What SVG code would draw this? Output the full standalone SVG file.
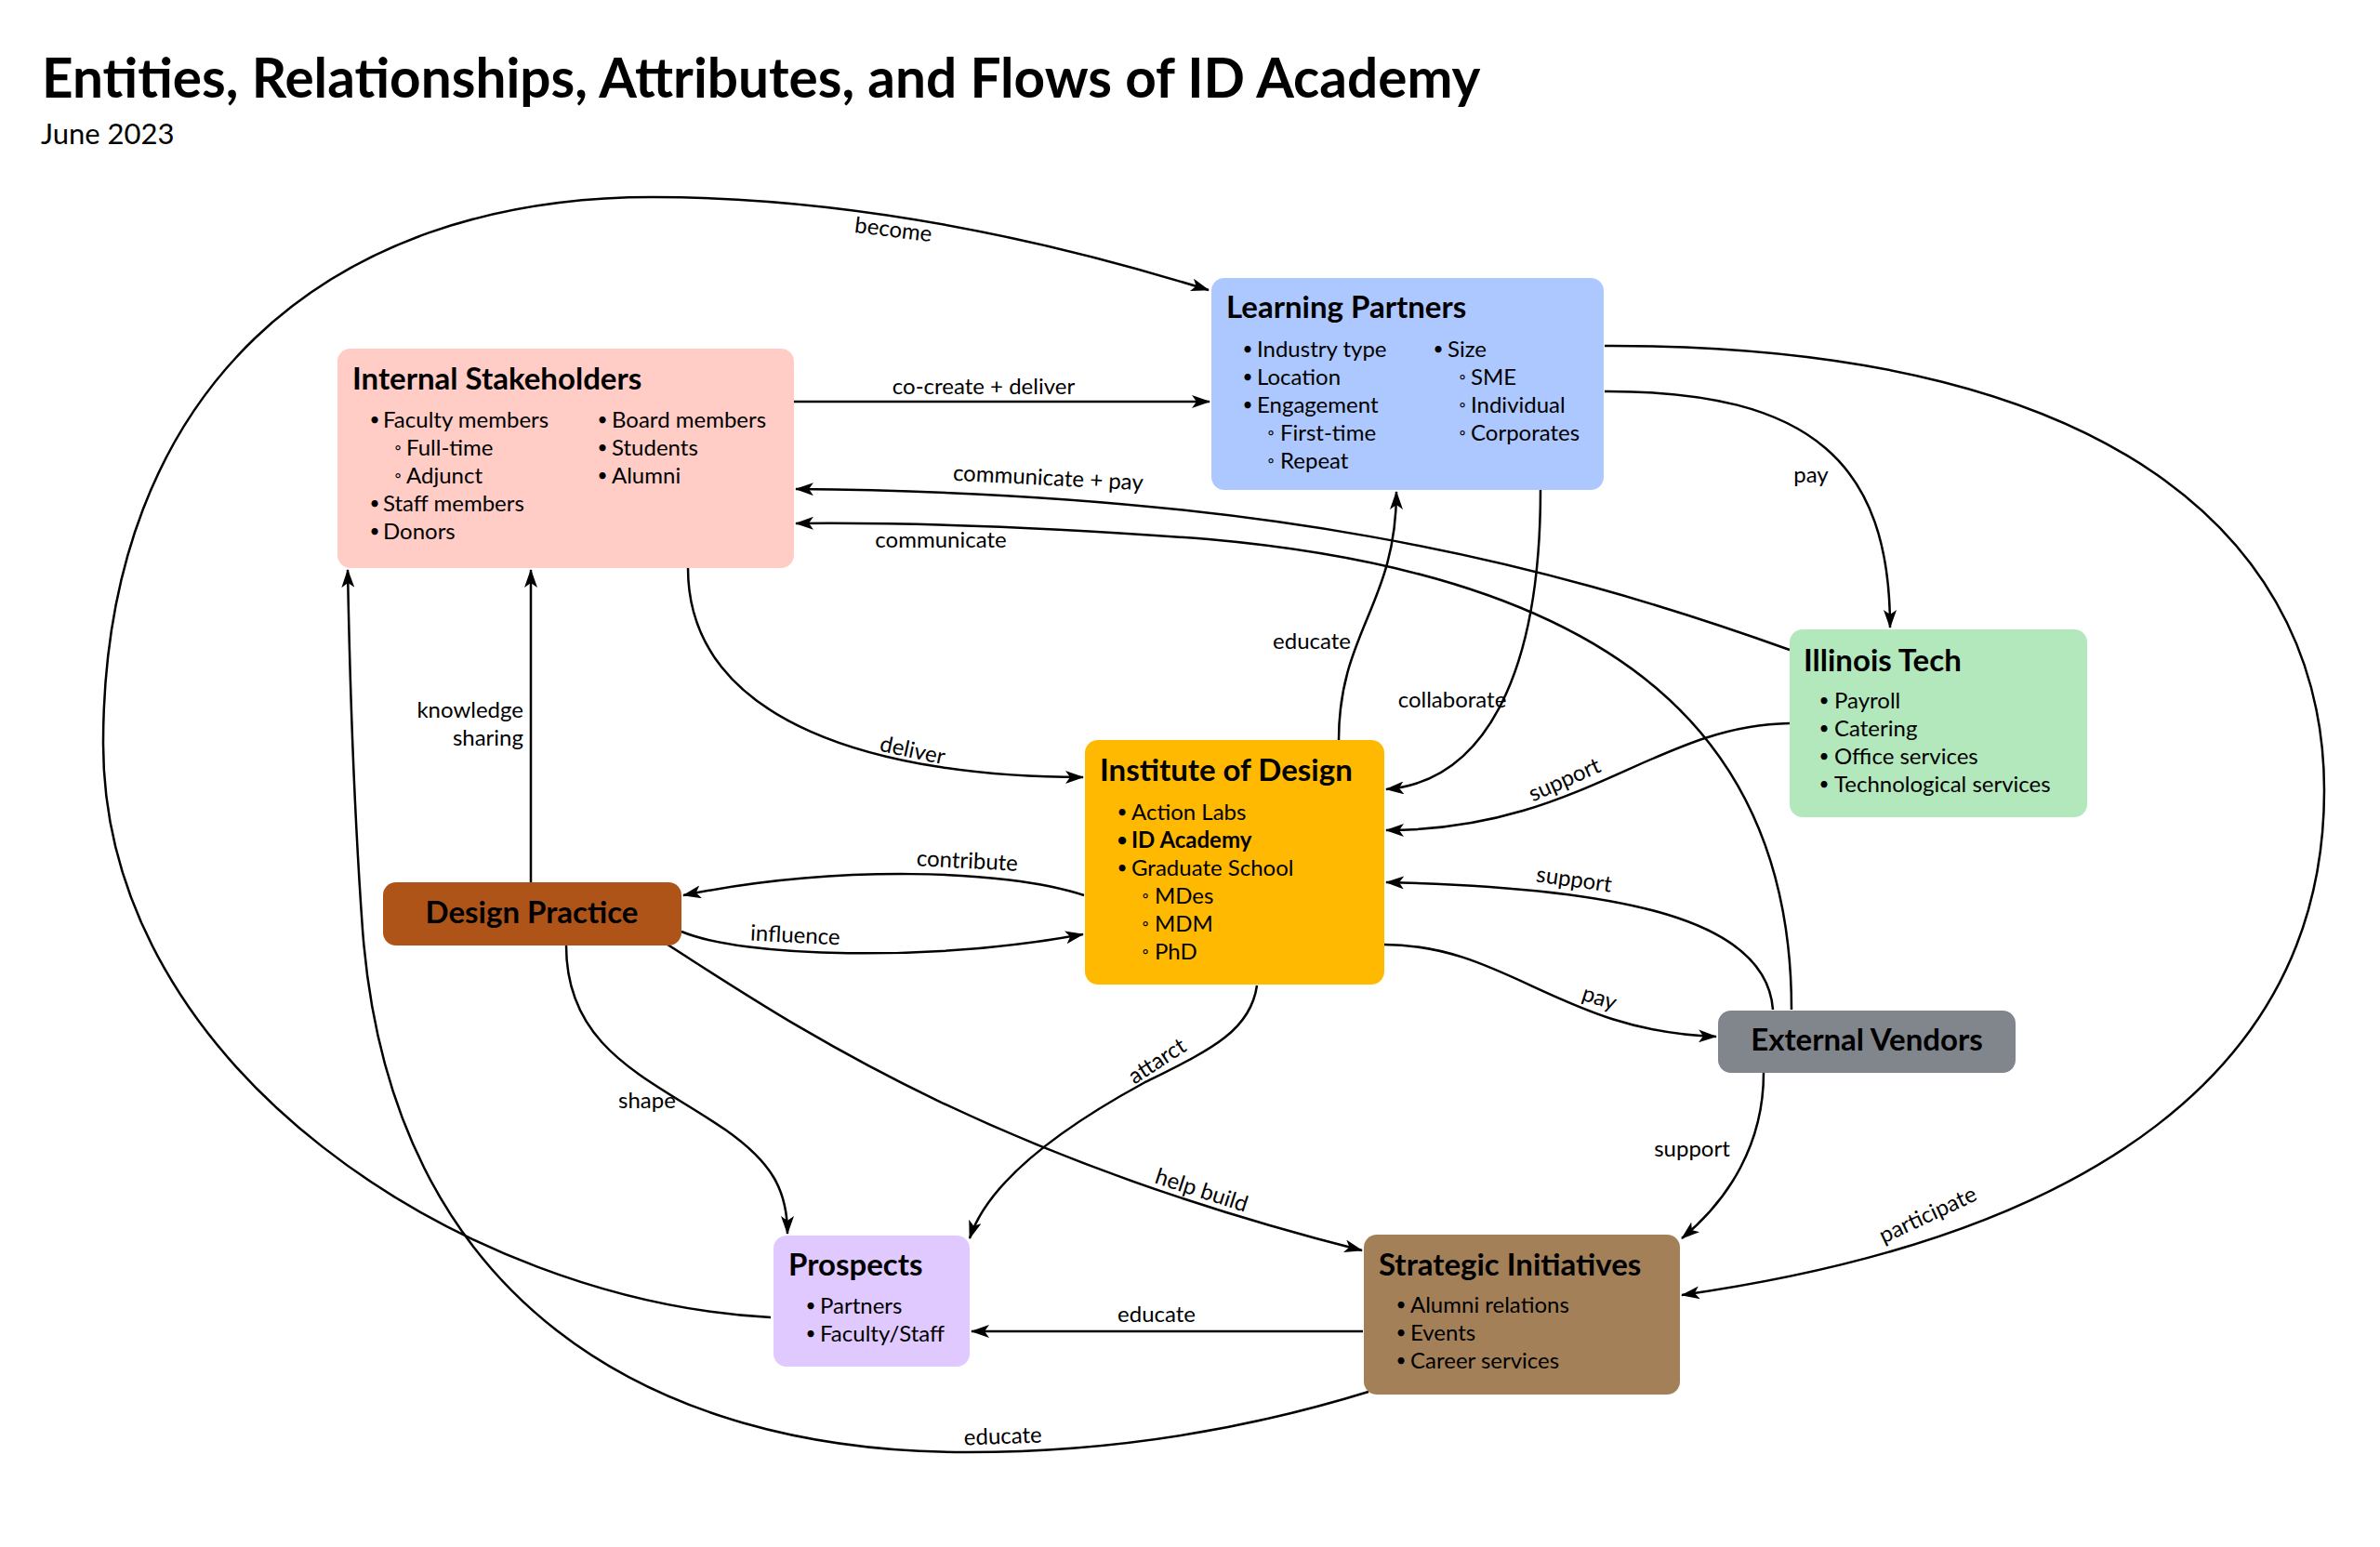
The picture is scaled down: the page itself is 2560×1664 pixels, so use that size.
<svg xmlns="http://www.w3.org/2000/svg" width="2560" height="1664" viewBox="0 0 2560 1664">
<defs>
<style>
text{font-family:Lato,"Open Sans","Liberation Sans",sans-serif;fill:#000}
.ttl{font-size:58.5px;font-weight:700}
.sub{font-size:31px}
.nt{font-size:33px;font-weight:700}
.b{font-size:24px}
.bb{font-size:24px;font-weight:700}
.dot{font-size:19px;text-anchor:middle}
.lbl{font-size:24px;text-anchor:middle}
.c{text-anchor:middle}
.edge{fill:none;stroke:#000;stroke-width:2.5;marker-end:url(#ah)}
</style>
<marker id="ah" viewBox="0 0 20 14" refX="19" refY="7" markerWidth="20" markerHeight="14" markerUnits="userSpaceOnUse" orient="auto">
<path d="M0,0 L20,7 L0,14 L5,7 Z" fill="#000"/>
</marker>
</defs>
<rect width="2560" height="1664" fill="#fff"/>
<text class="ttl" x="45" y="105">Entities, Relationships, Attributes, and Flows of ID Academy</text>
<text class="sub" x="44" y="155">June 2023</text>

<g id="connectors">
<path class="edge" d="M829 1417 C500 1400,111 1150,111 800 C111 420,350 212,702 212 C900 212,1100 250,1300 312"/>
<path class="edge" d="M854 432 L1301 432"/>
<path class="edge" d="M1925 699 C1650 600,1350 530,856 526"/>
<path class="edge" d="M1927 1086 C1927 800,1750 620,1300 580 C1100 565,950 562,856 563"/>
<path class="edge" d="M1726 421 C1950 420,2033 500,2033 675"/>
<path class="edge" d="M1726 372 C2300 370,2500 600,2500 850 C2500 1150,2250 1330,1809 1393"/>
<path class="edge" d="M1657 527 C1657 720,1600 840,1491 849"/>
<path class="edge" d="M1440 796 C1440 680,1502 650,1502 529"/>
<path class="edge" d="M740 611 C740 780,950 836,1165 836"/>
<path class="edge" d="M571 949 L571 613"/>
<path class="edge" d="M1925 778 C1780 780,1700 893,1491 893"/>
<path class="edge" d="M1907 1086 C1900 990,1750 955,1491 949"/>
<path class="edge" d="M1489 1016 C1620 1016,1680 1110,1846 1115"/>
<path class="edge" d="M1897 1154 C1897 1230,1860 1290,1809 1332"/>
<path class="edge" d="M1166 963 C1080 935,900 930,735 963"/>
<path class="edge" d="M733 1002 C800 1030,1000 1035,1165 1005"/>
<path class="edge" d="M609 1017 C609 1130,700 1160,780 1215 C830 1250,847 1280,847 1327"/>
<path class="edge" d="M718 1016 C850 1100,1050 1240,1465 1345"/>
<path class="edge" d="M1352 1060 C1345 1110,1300 1130,1230 1165 C1120 1225,1060 1280,1043 1332"/>
<path class="edge" d="M1466 1432 L1045 1432"/>
<path class="edge" d="M1472 1497 C1300 1550,1150 1562,1040 1562 C700 1562,420 1400,390 1000 C380 860,376 720,374 613"/>
<text class="lbl" transform="translate(960,255) rotate(7)">become</text>
<text class="lbl" x="1058" y="424">co-create + deliver</text>
<text class="lbl" transform="translate(1127,522) rotate(3)">communicate + pay</text>
<text class="lbl" x="1012" y="589">communicate</text>
<text class="lbl" x="1948" y="519">pay</text>
<text class="lbl" transform="translate(2077,1314) rotate(-25)">participate</text>
<text class="lbl" x="1562" y="761">collaborate</text>
<text class="lbl" x="1411" y="698">educate</text>
<text class="lbl" transform="translate(980,815) rotate(12)">deliver</text>
<text class="lbl" style="text-anchor:end" x="563" y="772">knowledge</text>
<text class="lbl" style="text-anchor:end" x="563" y="802">sharing</text>
<text class="lbl" transform="translate(1686,846) rotate(-24)">support</text>
<text class="lbl" transform="translate(1692,954) rotate(8)">support</text>
<text class="lbl" transform="translate(1718,1081) rotate(18)">pay</text>
<text class="lbl" x="1820" y="1244">support</text>
<text class="lbl" transform="translate(1040,934) rotate(3)">contribute</text>
<text class="lbl" transform="translate(855,1014) rotate(3)">influence</text>
<text class="lbl" x="696" y="1192">shape</text>
<text class="lbl" transform="translate(1290,1288) rotate(18)">help build</text>
<text class="lbl" transform="translate(1249,1148) rotate(-33)">attarct</text>
<text class="lbl" x="1244" y="1422">educate</text>
<text class="lbl" transform="translate(1079,1553) rotate(-2)">educate</text>
</g>

<g id="internal-stakeholders">
<rect x="363" y="375" width="491" height="236" rx="14" fill="#FFCCC6"/>
<text class="nt" x="379" y="419">Internal Stakeholders</text>
<text class="dot" x="403" y="458">•</text><text class="b" x="412" y="460">Faculty members</text>
<text class="dot" x="428" y="488">◦</text><text class="b" x="437" y="490">Full-time</text>
<text class="dot" x="428" y="518">◦</text><text class="b" x="437" y="520">Adjunct</text>
<text class="dot" x="403" y="548">•</text><text class="b" x="412" y="550">Staff members</text>
<text class="dot" x="403" y="578">•</text><text class="b" x="412" y="580">Donors</text>
<text class="dot" x="648" y="458">•</text><text class="b" x="658" y="460">Board members</text>
<text class="dot" x="648" y="488">•</text><text class="b" x="658" y="490">Students</text>
<text class="dot" x="648" y="518">•</text><text class="b" x="658" y="520">Alumni</text>
</g>

<g id="learning-partners">
<rect x="1303" y="299" width="422" height="228" rx="14" fill="#ADC8FF"/>
<text class="nt" x="1319" y="342">Learning Partners</text>
<text class="dot" x="1342" y="382">•</text><text class="b" x="1352" y="384">Industry type</text>
<text class="dot" x="1342" y="412">•</text><text class="b" x="1352" y="414">Location</text>
<text class="dot" x="1342" y="442">•</text><text class="b" x="1352" y="444">Engagement</text>
<text class="dot" x="1367" y="472">◦</text><text class="b" x="1377" y="474">First-time</text>
<text class="dot" x="1367" y="502">◦</text><text class="b" x="1377" y="504">Repeat</text>
<text class="dot" x="1547" y="382">•</text><text class="b" x="1557" y="384">Size</text>
<text class="dot" x="1573" y="412">◦</text><text class="b" x="1582" y="414">SME</text>
<text class="dot" x="1573" y="442">◦</text><text class="b" x="1582" y="444">Individual</text>
<text class="dot" x="1573" y="472">◦</text><text class="b" x="1582" y="474">Corporates</text>
</g>

<g id="illinois-tech">
<rect x="1925" y="677" width="320" height="202" rx="14" fill="#B3E8BD"/>
<text class="nt" x="1940" y="722">Illinois Tech</text>
<text class="dot" x="1962" y="760">•</text><text class="b" x="1973" y="762">Payroll</text>
<text class="dot" x="1962" y="790">•</text><text class="b" x="1973" y="792">Catering</text>
<text class="dot" x="1962" y="820">•</text><text class="b" x="1973" y="822">Office services</text>
<text class="dot" x="1962" y="850">•</text><text class="b" x="1973" y="852">Technological services</text>
</g>

<g id="institute-of-design">
<rect x="1167" y="796" width="322" height="263" rx="14" fill="#FFB900"/>
<text class="nt" x="1183" y="840">Institute of Design</text>
<text class="dot" x="1207" y="880">•</text><text class="b" x="1217" y="882">Action Labs</text>
<text class="dot" x="1207" y="910" font-weight="700">•</text><text class="bb" x="1217" y="912">ID Academy</text>
<text class="dot" x="1207" y="940">•</text><text class="b" x="1217" y="942">Graduate School</text>
<text class="dot" x="1232" y="970">◦</text><text class="b" x="1242" y="972">MDes</text>
<text class="dot" x="1232" y="1000">◦</text><text class="b" x="1242" y="1002">MDM</text>
<text class="dot" x="1232" y="1030">◦</text><text class="b" x="1242" y="1032">PhD</text>
</g>

<g id="design-practice">
<rect x="412" y="949" width="321" height="68" rx="14" fill="#AE5419"/>
<text class="nt c" x="572" y="993">Design Practice</text>
</g>

<g id="external-vendors">
<rect x="1848" y="1087" width="320" height="67" rx="14" fill="#81858C"/>
<text class="nt c" x="2008" y="1130">External Vendors</text>
</g>

<g id="prospects">
<rect x="832" y="1329" width="211" height="141" rx="14" fill="#E0C9FF"/>
<text class="nt" x="848" y="1372">Prospects</text>
<text class="dot" x="872" y="1411">•</text><text class="b" x="882" y="1413">Partners</text>
<text class="dot" x="872" y="1441">•</text><text class="b" x="882" y="1443">Faculty/Staff</text>
</g>

<g id="strategic-initiatives">
<rect x="1467" y="1328" width="340" height="172" rx="14" fill="#A48059"/>
<text class="nt" x="1483" y="1372">Strategic Initiatives</text>
<text class="dot" x="1507" y="1410">•</text><text class="b" x="1517" y="1412">Alumni relations</text>
<text class="dot" x="1507" y="1440">•</text><text class="b" x="1517" y="1442">Events</text>
<text class="dot" x="1507" y="1470">•</text><text class="b" x="1517" y="1472">Career services</text>
</g>
</svg>
